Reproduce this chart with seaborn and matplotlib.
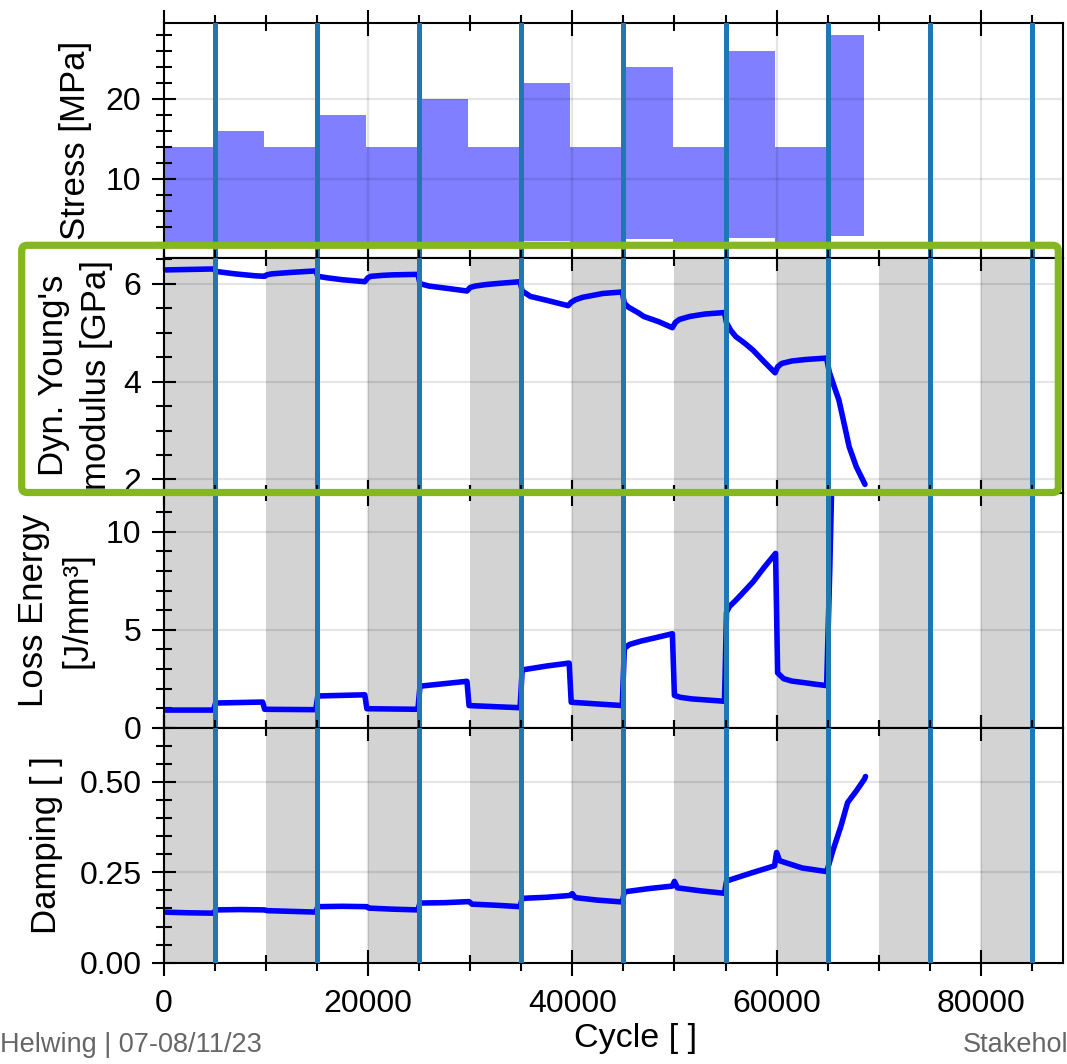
import numpy as np
import pandas as pd
import matplotlib
matplotlib.use("Agg")
import matplotlib.pyplot as plt
import seaborn as sns
from matplotlib.ticker import MultipleLocator, FormatStrFormatter
from matplotlib.patches import FancyBboxPatch

# ---------------- data ----------------
stress_seg_start = [0, 5000, 9800, 15000, 19800, 25000, 29800, 35000, 39800, 45000, 49850, 55000, 59800, 65000]
stress_seg_end = [5000, 9800, 15000, 19800, 25000, 29800, 35000, 39800, 45000, 49850, 55000, 59800, 65000, 68600]
stress_max = [14, 16, 14, 18, 14, 20, 14, 22, 14, 24, 14, 26, 14, 28]
stress_min = [1.4, 1.6, 1.4, 1.8, 1.4, 2.0, 1.4, 2.2, 1.4, 2.4, 1.4, 2.6, 1.4, 2.8]

young_cycle = [0, 2500, 4900, 5100, 7000, 9000, 9900, 10100, 10600, 12500, 14900,
               15100, 16000, 17500, 19700, 20000, 20300, 21500, 22500, 24900,
               25100, 26000, 27900, 29700, 30000, 30500, 31500, 32500, 34900,
               35100, 35900, 37500, 39600, 39900, 40300, 41000, 42000, 43000, 44900,
               45100, 45500, 46500, 47000, 48500, 49800, 50100, 50500, 51500, 53000, 54900,
               55100, 55500, 56000, 56900, 57700, 58800, 59850, 60100, 60500, 61500, 62800, 64900,
               65150, 65600, 66100, 66600, 67100, 67800, 68650]
young_gpa = [6.28, 6.29, 6.30, 6.25, 6.20, 6.16, 6.15, 6.18, 6.20, 6.23, 6.26,
             6.15, 6.12, 6.08, 6.04, 6.12, 6.15, 6.17, 6.18, 6.19,
             6.00, 5.95, 5.90, 5.85, 5.92, 5.95, 5.98, 6.00, 6.04,
             5.85, 5.74, 5.66, 5.55, 5.62, 5.67, 5.72, 5.76, 5.80, 5.83,
             5.60, 5.52, 5.40, 5.33, 5.22, 5.10, 5.21, 5.27, 5.33, 5.38, 5.41,
             5.20, 5.05, 4.92, 4.78, 4.64, 4.40, 4.18, 4.30, 4.37, 4.42, 4.45, 4.48,
             4.20, 3.92, 3.62, 3.15, 2.67, 2.26, 1.90]

loss_cycle = [0, 4900, 5100, 9700, 9900, 14900, 15100, 19700, 19900, 24900,
              25100, 27500, 29700, 29900, 34900, 35100, 37500, 39700, 39900, 44900,
              45100, 45600, 46700, 48200, 49800, 50000, 50600, 51700, 54900,
              55100, 55400, 56000, 56900, 57700, 58800, 59900,
              60100, 60700, 61500, 62700, 63800, 64900,
              65200, 65400, 66000, 68600]
loss_energy = [0.90, 0.90, 1.26, 1.31, 0.94, 0.92, 1.62, 1.68, 0.97, 0.94,
               2.12, 2.25, 2.37, 1.13, 1.02, 2.95, 3.15, 3.30, 1.30, 1.13,
               4.05, 4.25, 4.42, 4.60, 4.80, 1.65, 1.55, 1.47, 1.35,
               5.90, 6.20, 6.50, 7.00, 7.45, 8.20, 8.90,
               2.80, 2.50, 2.38, 2.30, 2.22, 2.15,
               8.0, 12.5, 15.0, 25.0]

damp_cycle = [0, 2500, 4900, 5100, 7500, 9900, 10100, 12500, 14900,
              15100, 17500, 19900, 20100, 22500, 24900,
              25100, 27500, 29900, 30200, 32500, 34900,
              35100, 37500, 39800, 40000, 40300, 42500, 44900,
              45100, 47500, 49800, 50000, 50300, 52500, 54900,
              55100, 57500, 59800, 60000, 60300, 62500, 64900,
              65100, 65450, 66300, 66950, 67800, 68600, 68700]
damping = [0.140, 0.138, 0.137, 0.146, 0.147, 0.146, 0.144, 0.142, 0.140,
           0.155, 0.156, 0.155, 0.151, 0.148, 0.146,
           0.165, 0.166, 0.169, 0.162, 0.159, 0.155,
           0.178, 0.181, 0.186, 0.191, 0.180, 0.173, 0.168,
           0.196, 0.205, 0.212, 0.225, 0.207, 0.199, 0.192,
           0.226, 0.248, 0.268, 0.305, 0.282, 0.262, 0.252,
           0.270, 0.305, 0.378, 0.443, 0.475, 0.508, 0.515]

shade_starts = [0, 10000, 20000, 30000, 40000, 50000, 60000, 70000, 80000]
shade_width = 5000
block_lines = [5000, 15000, 25000, 35000, 45000, 55000, 65000, 75000, 85000]

ylabels = ["Stress [MPa]", "Dyn. Young's\nmodulus [GPa]", "Loss Energy\n[J/mm³]", "Damping [ ]"]
xlabel = "Cycle [ ]"
footer_left = "Helwing | 07-08/11/23"
footer_right = "Stakehol"

# ---------------- style ----------------
sns.set_theme(style="white")
plt.rcParams["font.family"] = ["Liberation Sans", "DejaVu Sans"]

W, H = 1067, 1064
fig = plt.figure(figsize=(W / 100, H / 100), dpi=100)

left_px, right_px = 163.5, 1062.7
bounds = [22.7, 257.7, 492.7, 727.7, 962.7]
axes = []
for i in range(4):
    top, bot = bounds[i], bounds[i + 1]
    ax = fig.add_axes([left_px / W, 1 - bot / H, (right_px - left_px) / W, (bot - top) / H])
    axes.append(ax)

ylims = [(0.1, 29.5), (1.73, 6.53), (0, 12), (0, 0.65)]
ymajor = [10, 2, 5, 0.25]
yminor = [2, 0.5, 1, 0.05]
label_x_px = [75, 75, 55, 47]

line_color = "#0000ff"
vline_color = "#1f77b4"

for i, ax in enumerate(axes):
    ax.set_xlim(0, 88000)
    ax.set_ylim(*ylims[i])
    if i > 0:
        for s in shade_starts:
            ax.axvspan(s, s + shade_width, color="#d3d3d3", lw=0, zorder=0.3)
    ax.set_axisbelow(True)
    ax.grid(True, which="major", color="black", alpha=0.1, lw=1.6)
    ax.xaxis.set_major_locator(MultipleLocator(20000))
    ax.xaxis.set_minor_locator(MultipleLocator(5000))
    ax.yaxis.set_major_locator(MultipleLocator(ymajor[i]))
    ax.yaxis.set_minor_locator(MultipleLocator(yminor[i]))
    ax.tick_params(axis="x", which="major", direction="inout", length=18.7, width=1.5,
                   colors="black", labelsize=23, pad=9.3, top=True, bottom=True,
                   labelbottom=(i == 3))
    ax.tick_params(axis="x", which="minor", direction="inout", length=11.5, width=1.5,
                   colors="black", top=True, bottom=True)
    ax.tick_params(axis="y", which="major", direction="inout", length=17.3, width=1.5,
                   colors="black", labelsize=23, pad=7.2, left=True, right=False)
    ax.tick_params(axis="y", which="minor", direction="inout", length=11.2, width=1.5,
                   colors="black", left=True, right=False)
    for sp in ax.spines.values():
        sp.set_color("black")
        sp.set_linewidth(1.5)
        sp.set_visible(True)
    for xv in block_lines:
        ax.axvline(xv, color=vline_color, lw=3.6, zorder=3)

# stress envelope
ax = axes[0]
for s, e, lo, hi in zip(stress_seg_start, stress_seg_end, stress_min, stress_max):
    ax.fill_between([s, e], [lo, lo], [hi, hi], color="blue", alpha=0.5, lw=0, zorder=0.3)

# curves
df_y = pd.DataFrame({"cycle": young_cycle, "val": young_gpa})
df_l = pd.DataFrame({"cycle": loss_cycle, "val": loss_energy})
df_d = pd.DataFrame({"cycle": damp_cycle, "val": damping})
for ax, df in zip(axes[1:], [df_y, df_l, df_d]):
    sns.lineplot(data=df, x="cycle", y="val", ax=ax, color=line_color, lw=4.0,
                 estimator=None, sort=False, zorder=2)

axes[3].yaxis.set_major_formatter(FormatStrFormatter("%.2f"))

for i, ax in enumerate(axes):
    ax.set_ylabel(ylabels[i], fontsize=25, va="center", ha="center",
                  multialignment="center", linespacing=1.4, color="black")
    ax.yaxis.set_label_coords((label_x_px[i] - left_px) / (right_px - left_px), 0.5)
    if i < 3:
        ax.set_xlabel("")

ax = axes[3]
ax.set_xlabel(xlabel, fontsize=24.5, va="center", color="black")
ax.xaxis.set_label_coords((636 - left_px) / (right_px - left_px),
                          (bounds[4] - 1039) / (bounds[4] - bounds[3]))

# green highlight box around the modulus panel
gx0, gx1, gy0, gy1 = 21.7, 1058.3, 245.3, 492.5
box = FancyBboxPatch((gx0 / W, 1 - gy1 / H), (gx1 - gx0) / W, (gy1 - gy0) / H,
                     boxstyle="round,pad=0,rounding_size=0.005",
                     transform=fig.transFigure, fill=False, edgecolor="#85b720",
                     lw=5.2, zorder=10)
fig.add_artist(box)

fig.text(0.0, 1 - 1045 / H, footer_left, color="#666666", fontsize=19.5, ha="left", va="center")
fig.text(963 / W, 1 - 1045 / H, footer_right, color="#666666", fontsize=19.5, ha="left", va="center")

fig.savefig("out.png", dpi=100)
